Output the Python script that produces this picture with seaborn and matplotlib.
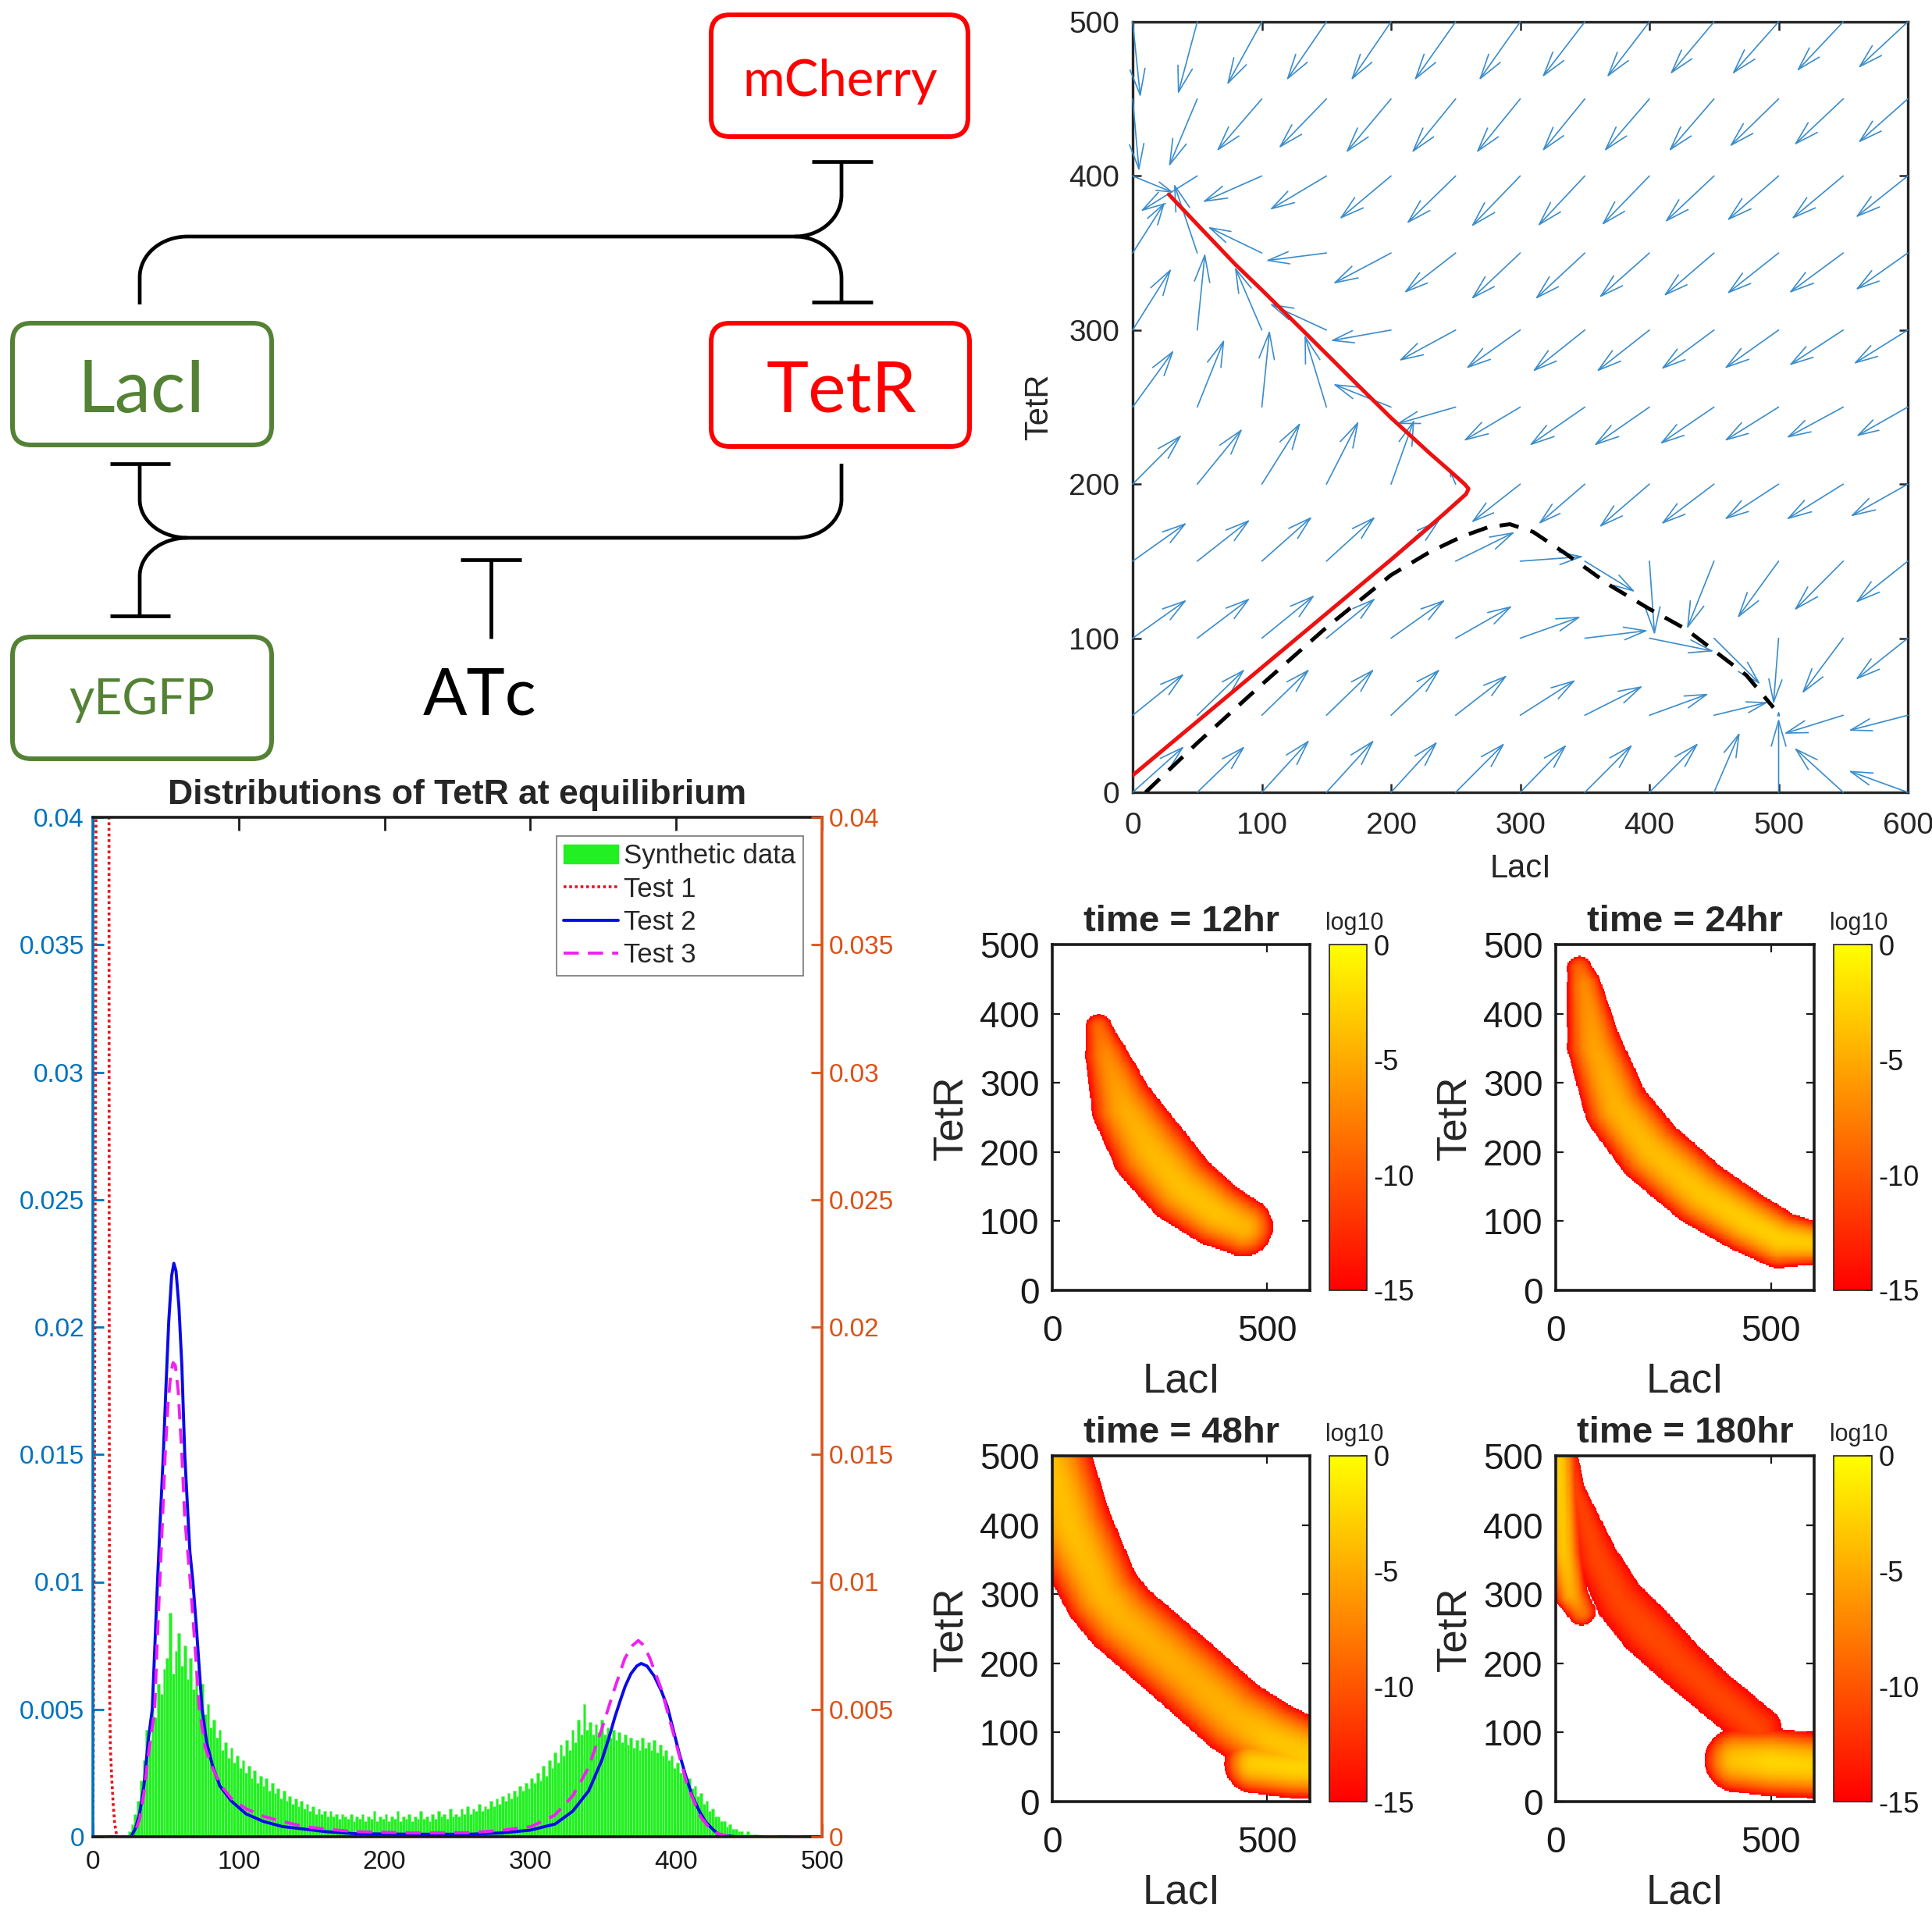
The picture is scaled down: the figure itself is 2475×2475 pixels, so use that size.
import numpy as np
import pandas as pd
import matplotlib
matplotlib.use("Agg")
import matplotlib.pyplot as plt
import seaborn as sns
from matplotlib.patches import FancyBboxPatch, Patch
from matplotlib.lines import Line2D
from matplotlib.ticker import FuncFormatter

# -----------------------------
# Phase portrait (LacI / TetR)
# -----------------------------
grid_laci = list(range(0, 601, 50))
grid_tetr = list(range(0, 501, 50))
# arrow (dLacI, dTetR) per grid point, one row per TetR level (bottom row first)
field_rows = [
    [(40, 30), (37, 30), (37, 34), (37, 34), (36, 33), (38, 32), (36, 31), (37, 31), (38, 32), (20, 39), (0, 48), (-38, 29), (-46, 14)],
    [(40, 27), (37, 30), (37, 30), (37, 30), (38, 30), (40, 26), (43, 23), (45, 19), (46, 14), (42, 8.5), (0, 3), (-46, -12), (-46, -10)],
    [(42, 25), (41, 26), (41, 28), (38, 26), (42, 25), (44, 21), (47, 14), (49, 5), (50, -8.5), (36, -30), (-4, -43), (-32, -36), (-40.5, -27)],
    [(42, 25), (41, 27), (39, 29), (38, 29), (38, 27), (46, 19), (49, 3), (39, -20), (4, -48), (-21, -44), (-32, -37), (-38, -32), (-40.5, -27)],
    [(38, 32), (35, 36), (30, 40), (25, 41), (18, 42), (-5, 10), (-38, -25), (-36, -26), (-39, -28), (-41, -26), (-42, -23), (-44, -23), (-44.5, -21)],
    [(32, 37), (21, 44), (6, 50), (-17, 47), (-45, 15), (-46, -11), (-44, -22), (-43, -25), (-43, -25), (-42, -24), (-42, -22), (-44, -20), (-40, -19)],
    [(30, 40), (6, 50), (-21, 41), (-44, 17), (-47, -7), (-44, -20), (-42, -25), (-40.5, -27), (-41, -27), (-41, -25.5), (-42, -25), (-42, -23), (-42, -22)],
    [(25, 33), (-18, 45), (-42, 17), (-47, -5), (-45, -20), (-40, -26), (-38, -30), (-38.5, -30), (-39, -29), (-39, -28), (-40, -26.5), (-42, -26), (-40.5, -24)],
    [(32, -11), (-44, -23), (-46, -17), (-44, -22), (-40, -28), (-38, -31), (-38, -33), (-36.5, -32.6), (-37, -32), (-38, -30), (-40, -29), (-40, -28), (-40.5, -27)],
    [(5, -47), (-22, -44), (-35, -34), (-37, -32), (-35, -35), (-34, -35), (-34, -35), (-33, -34), (-35, -34), (-35, -34), (-38, -31), (-38, -30), (-38.5, -28.5)],
    [(6, -49), (-15, -47), (-27, -41), (-31, -38), (-31, -38), (-32, -38), (-32, -38), (-33, -36), (-33, -36), (-34, -34), (-36, -34), (-36, -32), (-38.5, -30)],
]
red_laci = [0, 50, 100, 150, 200, 240, 252, 258, 260, 257, 245, 230, 200, 171, 135, 100, 79, 54, 28]
red_tetr = [11, 46, 81, 116, 151, 180, 189, 193.5, 197, 200, 209, 220, 243, 267, 297, 326, 343, 365, 388]
sep_laci = [10, 50, 100, 150, 200, 230, 255, 275, 292, 310, 335, 370, 400, 428, 450, 475, 496]
sep_tetr = [0, 32, 70, 107, 141, 156, 166, 172, 174, 169, 155, 134, 119, 106, 92, 76, 55]

# -----------------------------
# Histogram + test curves
# -----------------------------
hist_start = 24
hist_width = 2
hist_vals_e4 = [
    2, 5, 9, 14, 22, 30, 42, 38, 50, 47, 60, 56, 66, 70, 88, 64, 73, 80, 67, 75,
    62, 70, 58, 65, 54, 60, 48, 52, 43, 46, 39, 42, 34, 37, 31, 35, 29, 32, 27, 30,
    25, 28, 23, 26, 21, 24, 20, 23, 18, 21, 17, 19, 15, 18, 14, 16, 13, 15, 12, 14,
    11, 13, 10, 12, 9, 11, 9, 10, 8, 10, 8, 9, 7, 9, 8, 7, 9, 6, 8, 7,
    9, 6, 8, 7, 10, 6, 8, 7, 9, 6, 8, 7, 10, 6, 8, 7, 9, 6, 8, 7,
    10, 7, 8, 6, 9, 7, 10, 8, 9, 7, 11, 8, 9, 8, 11, 9, 12, 9, 11, 10,
    13, 10, 12, 11, 14, 12, 15, 13, 16, 14, 17, 15, 18, 16, 20, 18, 21, 19, 23, 21,
    25, 22, 28, 24, 30, 27, 33, 29, 36, 32, 38, 34, 42, 37, 46, 40, 52, 42, 45, 40,
    44, 41, 46, 40, 43, 39, 42, 38, 41, 37, 40, 36, 39, 35, 38, 34, 39, 35, 37, 34,
    38, 33, 36, 32, 34, 30, 32, 27, 29, 25, 26, 22, 23, 19, 20, 16, 17, 13, 14, 10,
    11, 8, 8, 6, 6, 4, 5, 3, 3, 2, 2, 1, 2, 1, 1, 1, 0.5, 0.5, 0, 0,
]
test1_x = [0, 1, 2, 2.7, 4, 7, 10, 11.0, 11.2, 11.4, 12, 13, 14, 15, 16, 17, 500]
test1_y = [0, 0.012, 0.035, 0.06, 0.08, 0.08, 0.07, 0.045, 0.02, 0.006, 0.0035, 0.0022, 0.0012, 0.0005, 0.00015, 0, 0]
test2_x = [0, 26, 29, 32, 35, 38, 40.7, 43, 44.3, 46, 48.3, 50, 52, 54, 55.5, 57, 59, 61, 63, 65, 66.5,
           68.6, 71, 74.9, 78, 82, 87, 95, 105, 117, 130, 145, 160, 180, 220, 258, 280, 300, 317, 329,
           340, 349, 354, 358, 362, 365, 369, 373, 376, 380, 385, 390, 394, 398, 402, 406, 411, 416,
           420, 425, 429, 435, 442, 500]
test2_y = [0, 0, 0.0003, 0.0009, 0.002, 0.0038, 0.005, 0.0082, 0.01, 0.0122, 0.015, 0.0175, 0.0202,
           0.022, 0.0225, 0.0222, 0.0208, 0.0185, 0.015, 0.0128, 0.0112, 0.01, 0.0082, 0.005, 0.0037,
           0.0028, 0.002, 0.0014, 0.0009, 0.0006, 0.0004, 0.0003, 0.0002, 0.00012, 0.0001, 0.0001,
           0.00015, 0.00026, 0.0005, 0.001, 0.0018, 0.003, 0.0039, 0.0047, 0.0054, 0.0059, 0.0064,
           0.0067, 0.0068, 0.0067, 0.0063, 0.0057, 0.0051, 0.0042, 0.0033, 0.0025, 0.0016, 0.001,
           0.0006, 0.0003, 0.0001, 0.00003, 0, 0]
test3_x = [0, 26, 29, 32, 35, 38, 42.4, 44, 45.9, 48, 49.6, 51.5, 53.5, 55, 56.5, 58.5, 61, 63, 66.8,
           70, 73, 77, 82, 88, 95, 105, 117, 130, 145, 160, 180, 220, 258, 280, 300.5, 316.6, 329,
           339.8, 348.8, 357.7, 364.8, 370, 374, 378, 382, 389.8, 398.8, 407.7, 416.6, 422, 427, 436, 500]
test3_y = [0, 0, 0.0002, 0.0007, 0.0017, 0.0032, 0.005, 0.0075, 0.01, 0.0128, 0.015, 0.017, 0.0182,
           0.0186, 0.0185, 0.0175, 0.015, 0.0125, 0.01, 0.0075, 0.005, 0.0035, 0.0027, 0.002, 0.0015,
           0.0011, 0.0008, 0.0006, 0.0004, 0.0003, 0.0002, 0.00015, 0.00016, 0.00025, 0.0004,
           0.00084, 0.0016, 0.0027, 0.0042, 0.0058, 0.007, 0.0075, 0.0077, 0.0075, 0.007, 0.0058,
           0.0039, 0.002, 0.0008, 0.0004, 0.00016, 0, 0]
legend_labels = ["Synthetic data", "Test 1", "Test 2", "Test 3"]

# -----------------------------
# Density snapshots: ridges (LacI, TetR points, half-width px, peak log10)
# -----------------------------
panel_titles = ["time = 12hr", "time = 24hr", "time = 48hr", "time = 180hr"]
ridges_12 = [
    ([(108, 380), (125, 340), (167, 264), (228, 202), (300, 149), (380, 112), (445, 92)],
     [17, 27, 42, 50, 48, 43, 38], [-9, -7, -5, -4.2, -3.8, -3.7, -4.3]),
]
ridges_24 = [
    ([(55, 465), (66, 441), (90, 353), (142, 264), (220, 202), (337, 140), (440, 100), (519, 74),
      (600, 68), (650, 66)],
     [16, 22, 35, 42, 44, 43, 40, 37, 28, 25],
     [-9, -7, -5.5, -4.5, -4, -3.5, -3.1, -2.9, -3.2, -3.5]),
]
ridges_48 = [
    ([(-20, 520), (40, 400), (116, 300), (163, 265), (201, 245), (318, 182), (425, 123), (510, 90),
      (600, 65), (660, 55)],
     [54, 54, 50, 50, 50, 50, 50, 50, 48, 48],
     [-3.8, -3.8, -4.3, -4.6, -4.8, -5, -4.6, -3.6, -3.2, -3.4]),
    ([(470, 55), (560, 50), (640, 48)], [38, 40, 40], [-3, -2.6, -2.8]),
]
ridges_180 = [
    ([(0, 530), (8, 450), (18, 360), (35, 300), (60, 275)], [26, 25, 23, 21, 18], [-2.5, -3, -3.5, -5, -8]),
    ([(30, 520), (47, 450), (98, 350), (150, 290), (208, 250), (290, 200), (362, 160), (430, 125), (470, 105)],
     [8, 12, 27, 32, 35, 32, 30, 30, 30], [-11.5, -11.3, -11, -11, -10.8, -11, -11, -11, -11]),
    ([(420, 60), (500, 57), (600, 52), (650, 50)], [41, 44, 42, 40], [-3.5, -2.5, -2.8, -3]),
]
panel_ridges = [ridges_12, ridges_24, ridges_48, ridges_180]

# -----------------------------
# Layout helpers
# -----------------------------
W = H = 2475
sns.set_style("ticks")
plt.rcParams['font.family'] = ['Liberation Sans', 'DejaVu Sans']

fig = plt.figure(figsize=(W / 100, H / 100), dpi=100)


def px_axes(x0, y0, x1, y1):
    return fig.add_axes([x0 / W, 1 - y1 / H, (x1 - x0) / W, (y1 - y0) / H])


# -----------------------------
# Circuit diagram (pixel coordinates)
# -----------------------------
axd = fig.add_axes([0, 0, 1, 1])
axd.set_xlim(0, W)
axd.set_ylim(H, 0)
axd.axis('off')

green = '#548235'
red = '#ff0000'
boxes = [((911, 19, 1240, 175), red), ((16, 414, 348, 570), green),
         ((911, 414, 1242, 572), red), ((16, 816, 348, 972), green)]
r = 24
for (x0, y0, x1, y1), c in boxes:
    axd.add_patch(FancyBboxPatch((x0 + r, y0 + r), x1 - x0 - 2 * r, y1 - y0 - 2 * r,
                                 boxstyle=f"round,pad={r}", fc='none', ec=c, lw=4.3))

dfont = 'Lato'
axd.text(1076, 123, 'mCherry', color=red, fontsize=47, ha='center', va='baseline', family=dfont)
axd.text(182, 528, 'LacI', color=green, fontsize=67, ha='center', va='baseline', family=dfont)
axd.text(1078, 528, 'TetR', color=red, fontsize=66, ha='center', va='baseline', family=dfont)
axd.text(182, 915, 'yEGFP', color=green, fontsize=45, ha='center', va='baseline', family=dfont)
axd.text(615, 915, 'ATc', color='black', fontsize=60, ha='center', va='baseline', family=dfont)


def arc(cx, cy, rx, ry, t0, t1):
    t = np.radians(np.linspace(t0, t1, 40))
    return list(cx + rx * np.cos(t)), list(cy + ry * np.sin(t))


def draw(xs, ys):
    axd.plot(xs, ys, color='black', lw=3.4, solid_capstyle='butt', solid_joinstyle='round')


# upper connector: LacI -| TetR and LacI -| mCherry
ax_, ay_ = arc(240, 355, 61, 52, 180, 270)
draw([179] + ax_ + [1018], [390] + ay_ + [303])
ax_, ay_ = arc(1018, 250, 60, 53, 90, 0)
draw(ax_ + [1078], ay_ + [207])
ax_, ay_ = arc(1018, 356, 60, 53, 270, 360)
draw(ax_ + [1078], ay_ + [387])
# lower connector: TetR -| LacI and TetR -| yEGFP
ax_, ay_ = arc(1020, 640, 58, 49, 0, 90)
draw([1078] + ax_ + [240], [594] + ay_ + [689])
ax_, ay_ = arc(240, 640, 61, 49, 90, 180)
draw(ax_ + [179], ay_ + [594])
ax_, ay_ = arc(240, 738, 61, 49, 270, 180)
draw(ax_ + [179], ay_ + [789])
# ATc
draw([629, 629], [717, 818])
for (xa, xb, yb) in [(1040, 1118, 207), (1040, 1118, 387), (141, 218, 594), (141, 218, 789), (590, 668, 717)]:
    draw([xa, xb], [yb, yb])

# -----------------------------
# Phase portrait
# -----------------------------
axq = px_axes(1451, 28, 2444, 1015)
qcol = '#3a8ccc'
sx_q, sy_q = 993 / 600, 987 / 500
for yv, row in zip(grid_tetr, field_rows):
    for xv, (du, dv) in zip(grid_laci, row):
        lpx = np.hypot(du * sx_q, dv * sy_q)
        if lpx < 2:
            continue
        axq.annotate('', xy=(xv + du, yv + dv), xytext=(xv, yv),
                     arrowprops=dict(arrowstyle='->,head_length=0.45,head_width=0.13', color=qcol,
                                     lw=1.2, shrinkA=0, shrinkB=0, mutation_scale=max(lpx * 0.55, 6)),
                     annotation_clip=False)
axq.plot(red_laci, red_tetr, color='#ee1111', lw=3.6, solid_joinstyle='round', zorder=5)
axq.plot(sep_laci, sep_tetr, color='black', lw=3.6, dashes=(5, 3.2), zorder=5)
axq.set_xlim(0, 600)
axq.set_ylim(0, 500)
axq.set_xticks(range(0, 601, 100))
axq.set_yticks(range(0, 501, 100))
axq.tick_params(direction='in', top=True, right=True, length=8, width=1.8, labelsize=28,
                colors='#262626')
axq.tick_params(axis='x', pad=18)
axq.tick_params(axis='y', pad=12)
for s in axq.spines.values():
    s.set_linewidth(2.4)
    s.set_color('#262626')
axq.set_xlabel('LacI', fontsize=30, color='#262626', labelpad=12)
axq.set_ylabel('TetR', fontsize=30, color='#262626', labelpad=13)

# -----------------------------
# Histogram panel
# -----------------------------
blue_ax = '#0072BD'
orange_ax = '#D95319'
axh = px_axes(119, 1047, 1053, 2353)
hist_df = pd.DataFrame({
    'tetr': hist_start + hist_width * (np.arange(len(hist_vals_e4)) + 0.5),
    'density': np.array(hist_vals_e4) * 1e-4,
})
sns.histplot(data=hist_df, x='tetr', weights='density', binwidth=hist_width,
             binrange=(hist_start, hist_start + hist_width * len(hist_vals_e4)), ax=axh,
             color='#22f022', edgecolor='#8af58a', linewidth=0.4, alpha=1.0)
axh.plot(test1_x, test1_y, color='#e8141c', lw=2.6, ls=(0, (1, 1)))
axh.plot(test2_x, test2_y, color='#0a0ae6', lw=2.8)
axh.plot(test3_x, test3_y, color='#f020f0', lw=2.8, dashes=(5, 3))
axh.set_xlim(0, 500)
axh.set_ylim(0, 0.04)
axh.set_xlabel('')
axh.set_ylabel('')
axh.set_xticks(range(0, 501, 100))
axh.set_yticks(np.arange(0, 0.0401, 0.005))
fmt = FuncFormatter(lambda v, p: f"{v:g}")
axh.yaxis.set_major_formatter(fmt)
axh.tick_params(axis='x', direction='in', top=True, length=12, width=2, labelsize=24, pad=12, colors='#1a1a1a')
axh.tick_params(axis='y', direction='in', length=10, width=2, labelsize=24, pad=8, colors=blue_ax)
axh.spines['left'].set_color(blue_ax)
axh.spines['right'].set_visible(False)
for k in ['top', 'bottom']:
    axh.spines[k].set_color('#1a1a1a')
    axh.spines[k].set_linewidth(2.6)
axh.spines['left'].set_linewidth(2.6)
axh.set_title('Distributions of TetR at equilibrium', fontsize=32, fontweight='bold', pad=12)

axr = axh.twinx()
axr.set_ylim(0, 0.04)
axr.set_yticks(np.arange(0, 0.0401, 0.005))
axr.yaxis.set_major_formatter(fmt)
axr.tick_params(axis='y', direction='in', length=10, width=2, labelsize=24, pad=6, colors=orange_ax)
for k in ['left', 'top', 'bottom']:
    axr.spines[k].set_visible(False)
axr.spines['right'].set_color(orange_ax)
axr.spines['right'].set_linewidth(2.6)

handles = [Patch(facecolor='#22f022', edgecolor='#22f022'),
           Line2D([], [], color='#e8141c', lw=2.6, ls=(0, (1, 1))),
           Line2D([], [], color='#0a0ae6', lw=2.8),
           Line2D([], [], color='#f020f0', lw=2.8, dashes=(5, 3))]
leg = axr.legend(handles, legend_labels, loc='upper right', bbox_to_anchor=(0.974, 0.982),
                 fontsize=25, frameon=True, fancybox=False, edgecolor='#777777', framealpha=1,
                 borderaxespad=0, borderpad=0.28, labelspacing=0.27, handlelength=2.0,
                 handletextpad=0.2)
leg.get_frame().set_linewidth(1.2)

# -----------------------------
# Density snapshots
# -----------------------------
SX, SY = 330 / 600, 443 / 500
res = 2
xg = np.arange(res / 2, 600, res)
yg = np.arange(res / 2, 500, res)
X, Y = np.meshgrid(xg, yg)


def ridge_field(pts, hw, peak):
    P = np.array(pts, float)
    px, py = X * SX, Y * SY
    best = np.full(X.shape, -np.inf)
    for i in range(len(P) - 1):
        x0, y0 = P[i, 0] * SX, P[i, 1] * SY
        dx, dy = P[i + 1, 0] * SX - x0, P[i + 1, 1] * SY - y0
        t = np.clip(((px - x0) * dx + (py - y0) * dy) / (dx * dx + dy * dy), 0, 1)
        d = np.hypot(px - x0 - t * dx, py - y0 - t * dy)
        w = hw[i] + t * (hw[i + 1] - hw[i])
        pk = peak[i] + t * (peak[i + 1] - peak[i])
        best = np.maximum(best, pk - (pk + 15) * (d / w) ** 2)
    return best


panel_boxes = [(1348, 1210, 1678, 1653, 1703, 1751), (1993, 1210, 2324, 1653, 2349, 2398),
               (1348, 1865, 1678, 2308, 1703, 1751), (1993, 1865, 2324, 2308, 2349, 2398)]
for title, ridges, (x0, y0, x1, y1, c0, c1) in zip(panel_titles, panel_ridges, panel_boxes):
    ax = px_axes(x0, y0, x1, y1)
    cax = px_axes(c0, y0, c1, y1)
    Z = np.full(X.shape, -np.inf)
    for pts, hw, peak in ridges:
        Z = np.maximum(Z, ridge_field(pts, hw, peak))
    Zp = Z[::-1]
    sns.heatmap(Zp, ax=ax, cmap='autumn', vmin=-15, vmax=0, mask=Zp < -15, cbar_ax=cax,
                xticklabels=False, yticklabels=False, rasterized=True)
    ax.set_xticks([0, 500 / res])
    ax.set_xticklabels(['0', '500'])
    ax.set_yticks([(500 - v) / res for v in range(0, 501, 100)])
    ax.set_yticklabels([str(v) for v in range(0, 501, 100)], rotation=0)
    for s in ax.spines.values():
        s.set_visible(True)
        s.set_linewidth(2.6)
        s.set_color('#1a1a1a')
    ax.tick_params(direction='in', top=True, right=True, length=7, width=1.6, labelsize=33,
                   colors='#1a1a1a')
    ax.tick_params(axis='x', pad=22)
    ax.tick_params(axis='y', pad=12)
    ax.set_xlabel('LacI', fontsize=38, labelpad=12)
    ax.set_ylabel('TetR', fontsize=38, labelpad=8)
    ax.set_title(title, fontsize=34, fontweight='bold', pad=12)

    cb = ax.collections[0].colorbar
    cb.set_ticks([0, -5, -10, -15])
    cb.set_ticklabels(['0', '-5', '-10', '-15'])
    cb.ax.tick_params(labelsize=26, direction='in', length=6, width=1.2, pad=6, colors='#1a1a1a')
    cb.outline.set_visible(True)
    cb.outline.set_linewidth(1.2)
    cax.set_title('log10', fontsize=22, pad=14, loc='left', x=-0.1)

fig.savefig('out.png', dpi=100, facecolor='white')
